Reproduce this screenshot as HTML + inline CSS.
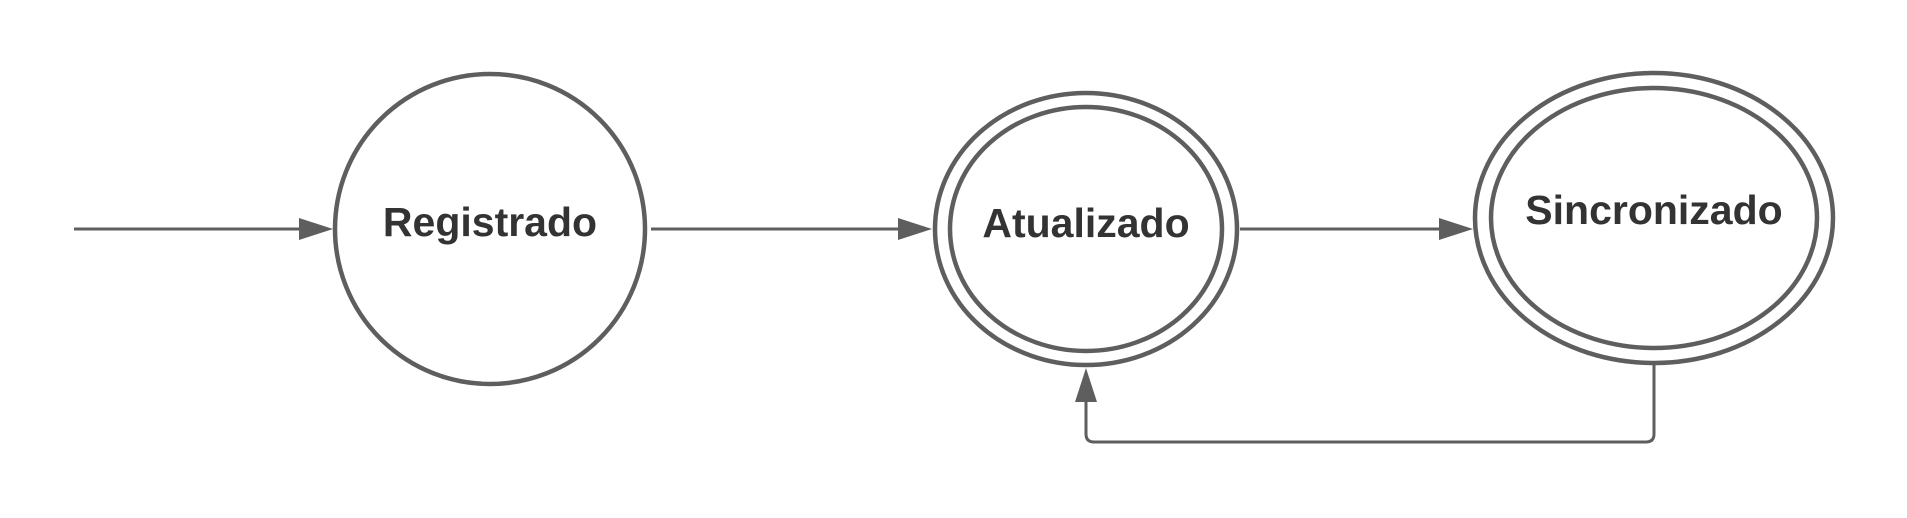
<!DOCTYPE html>
<html><head><style>body{margin:0;background:#fff}svg{display:block}</style></head>
<body>
<svg width="1907" height="518" viewBox="0 0 1907 518" xmlns="http://www.w3.org/2000/svg">
<g fill="none" stroke="#5e5e5e" stroke-width="4.5">
<ellipse cx="490" cy="229" rx="155" ry="155"/>
<ellipse cx="1086" cy="229" rx="151" ry="136"/>
<ellipse cx="1086" cy="229" rx="136" ry="122"/>
<ellipse cx="1654" cy="218" rx="179" ry="145"/>
<ellipse cx="1654" cy="218" rx="163" ry="130"/>
<line x1="74" y1="229" x2="302" y2="229" stroke-width="3"/>
<line x1="651" y1="229" x2="900" y2="229" stroke-width="3"/>
<line x1="1240" y1="229" x2="1442" y2="229" stroke-width="3"/>
<path d="M1654 364 V434 Q1654 442 1646 442 H1094 Q1086 442 1086 434 V400" stroke-width="3"/>
</g>
<g fill="#5e5e5e">
<polygon points="299,218 333,229 299,240"/>
<polygon points="898,218 932,229 898,240"/>
<polygon points="1439,218 1473,229 1439,240"/>
<polygon points="1075,402 1086,368 1097,402"/>
</g>
<g font-family="Liberation Sans, sans-serif" font-weight="bold" font-size="41" fill="#333" text-anchor="middle">
<text x="490" y="236">Registrado</text>
<text x="1086" y="237">Atualizado</text>
<text x="1654" y="224">Sincronizado</text>
</g>
</svg>
</body></html>
